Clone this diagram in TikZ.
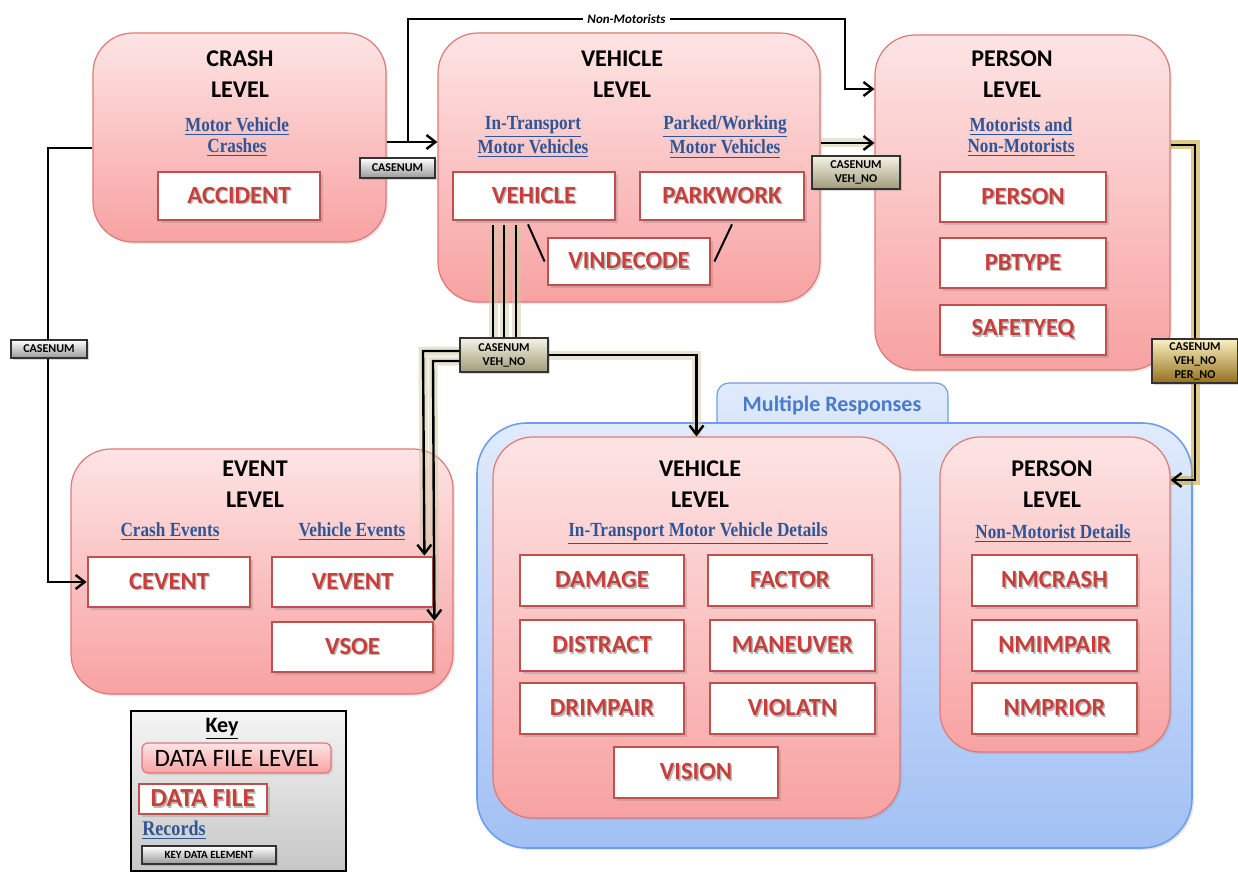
\documentclass[tikz,border=0pt]{standalone}
\usepackage{fontspec}
\setmainfont{Carlito}
\newfontfamily\slabfont{Liberation Serif}[FakeStretch=0.86]
\usetikzlibrary{arrows.meta,shadows,calc}

\definecolor{lvlTop}{HTML}{FDE4E4}
\definecolor{lvlBot}{HTML}{F8A2A2}
\definecolor{lvlLine}{HTML}{E07878}
\definecolor{fileRed}{HTML}{C0504D}
\definecolor{fileText}{HTML}{C63F3B}
\definecolor{subBlue}{HTML}{2F5597}
\definecolor{mrTop}{HTML}{E0EBFC}
\definecolor{mrBot}{HTML}{A2C0F4}
\definecolor{mrLine}{HTML}{6D9EEB}
\definecolor{mrText}{HTML}{4A7BC8}
\definecolor{khakiGlow}{HTML}{CFC9A4}
\definecolor{goldGlow}{HTML}{C9A540}
\definecolor{khakiTop}{HTML}{F5F3E6}
\definecolor{khakiBot}{HTML}{A09B78}
\definecolor{goldTop}{HTML}{FBF0C2}
\definecolor{goldBot}{HTML}{93701C}

% red file name with a soft grey shadow behind it
\newcommand\ftxt[1]{\makebox[0pt][l]{\hspace{0.7pt}\raisebox{-0.7pt}{\textcolor{black!28}{#1}}}#1}

\pgfdeclarelayer{back}
\pgfdeclarelayer{glowlayer}
\pgfsetlayers{back,glowlayer,main}

\tikzset{
  % place a rectangular node over the pixel box (x1,y1)-(x2,y2)
  area/.style n args={4}{
    minimum width={(#3-#1)*0.5pt}, minimum height={(#4-#2)*0.5pt},
    at={({(#1+#3)/2},{(#2+#4)/2})}},
  levelbox/.style={draw=lvlLine, line width=0.6pt, rounded corners=20pt,
    top color=lvlTop, bottom color=lvlBot, inner sep=0pt,
    drop shadow={shadow xshift=1pt, shadow yshift=-1pt, opacity=0.18}},
  dfile/.style={draw=fileRed, line width=1.4pt, fill=white, inner sep=0pt,
    text=fileText, font=\fontsize{12.3}{14}\selectfont\bfseries,
    drop shadow={shadow xshift=1.5pt, shadow yshift=-1.5pt, opacity=0.3}},
  ltitle/.style={align=center, font=\fontsize{12}{15.5}\selectfont\bfseries,
    text=black, inner sep=0pt},
  lsub/.style={align=center, font=\slabfont\bfseries\fontsize{10}{10.5}\selectfont,
    text=subBlue, inner sep=0pt},
  graykey/.style={draw=black!80, line width=0.6pt, top color=white,
    bottom color=black!40, inner sep=0pt, align=center,
    font=\fontsize{6}{7}\selectfont\bfseries,
    drop shadow={shadow xshift=0.8pt, shadow yshift=-0.8pt, opacity=0.3}},
  khakikey/.style={graykey, top color=khakiTop, bottom color=khakiBot},
  goldkey/.style={graykey, top color=goldTop, bottom color=goldBot},
  conn/.style={line width=1.2pt, draw=black},
  arr/.style={-{Straight Barb[length=4.5pt,width=7pt]}},
  kglow/.style={line width=4.5pt, draw=khakiGlow, opacity=0.5},
  gglow/.style={line width=4.5pt, draw=goldGlow, opacity=0.6},
}

\begin{document}
\begin{tikzpicture}[x=0.5pt,y=-0.5pt]
\useasboundingbox (0,0) rectangle (1238,872);

% ---------- level containers ----------
\begin{pgfonlayer}{back}
  % multiple responses tab and frame
  \path[draw=mrLine, line width=0.6pt, rounded corners=6pt,
        top color=mrTop, bottom color=mrTop!85!mrBot]
     (717,434) -- (717,383) -- (948,383) -- (948,434);
  \node[draw=mrLine, line width=0.8pt, rounded corners=25pt, top color=mrTop,
        bottom color=mrBot, inner sep=0pt,
        drop shadow={shadow xshift=1pt, shadow yshift=-1pt, opacity=0.2},
        area={477}{423}{1192}{848}] (mrbox) {};

  \node[levelbox, area={93}{33}{386}{242}] (crash) {};
  \node[levelbox, area={438}{33}{820}{302}] (vehlvl) {};
  \node[levelbox, area={875}{35}{1170}{370}] (perlvl) {};
  \node[levelbox, area={71}{449}{453}{694}] (evtlvl) {};
  \node[levelbox, area={493}{437}{900}{818}] (veh2) {};
  \node[levelbox, area={940}{437}{1170}{752}] (per2) {};

  % key panel
  \node[draw=black, line width=0.6pt, top color=black!4, bottom color=black!22,
        inner sep=0pt, area={131}{711}{346}{871}] (keypanel) {};
\end{pgfonlayer}

\node[inner sep=0pt, text=mrText, font=\fontsize{11}{13}\selectfont\bfseries]
  (mrtitle) at (832,405) {Multiple Responses};

% ---------- crash level ----------
\node[ltitle] (crashT) at (240,74) {CRASH\\LEVEL};
\node[lsub] (crashS) at (237,137) {\underline{Motor Vehicle}\\\underline{Crashes}};
\node[dfile, area={158}{172}{320}{220}] (accident) {\ftxt{ACCIDENT}};

% ---------- vehicle level ----------
\node[ltitle] (vehT) at (622,74) {VEHICLE\\LEVEL};
\node[lsub] (vehS1) at (533,137) {\underline{In-Transport}\\\underline{Motor Vehicles}};
\node[lsub] (vehS2) at (725,137) {\underline{Parked/Working}\\\underline{Motor Vehicles}};
\node[dfile, area={453}{172}{615}{220}] (vehicle) {\ftxt{VEHICLE}};
\node[dfile, area={640}{172}{804}{220}] (parkwork) {\ftxt{PARKWORK}};
\node[dfile, area={548}{238}{710}{285}] (vindecode) {\ftxt{VINDECODE}};
\draw[line width=1pt] ($(vehicle.south)+(-6,3)$) -- ($(vindecode.west)+(-2,0)$);
\draw[line width=1pt] ($(parkwork.south)+(10,3)$) -- ($(vindecode.east)+(3,0)$);

% ---------- person level ----------
\node[ltitle] (perT) at (1012,74) {PERSON\\LEVEL};
\node[lsub] (perS) at (1021,137) {\underline{Motorists and}\\\underline{Non-Motorists}};
\node[dfile, area={940}{172}{1106}{222}] (person) {\ftxt{PERSON}};
\node[dfile, area={940}{238}{1106}{288}] (pbtype) {\ftxt{PBTYPE}};
\node[dfile, area={940}{305}{1106}{355}] (safetyeq) {\ftxt{SAFETYEQ}};

% ---------- event level ----------
\node[ltitle] (evtT) at (255,484) {EVENT\\LEVEL};
\node[lsub] (evtS1) at (170,532) {\underline{Crash Events}};
\node[lsub] (evtS2) at (352,532) {\underline{Vehicle Events}};
\node[dfile, area={88}{557}{250}{607}] (cevent) {\ftxt{CEVENT}};
\node[dfile, area={272}{557}{433}{607}] (vevent) {\ftxt{VEVENT}};
\node[dfile, area={272}{622}{433}{672}] (vsoe) {\ftxt{VSOE}};

% ---------- multiple responses: vehicle level ----------
\node[ltitle] (veh2T) at (700,484) {VEHICLE\\LEVEL};
\node[lsub] (veh2S) at (698,534) {\underline{In-Transport Motor Vehicle Details}};
\node[dfile, area={520}{555}{684}{606}] (damage) {\ftxt{DAMAGE}};
\node[dfile, area={708}{555}{872}{606}] (factor) {\ftxt{FACTOR}};
\node[dfile, area={520}{620}{684}{671}] (distract) {\ftxt{DISTRACT}};
\node[dfile, area={710}{620}{875}{671}] (maneuver) {\ftxt{MANEUVER}};
\node[dfile, area={520}{683}{684}{734}] (drimpair) {\ftxt{DRIMPAIR}};
\node[dfile, area={710}{683}{875}{734}] (violatn) {\ftxt{VIOLATN}};
\node[dfile, area={614}{747}{778}{798}] (vision) {\ftxt{VISION}};

% ---------- multiple responses: person level ----------
\node[ltitle] (per2T) at (1052,484) {PERSON\\LEVEL};
\node[lsub] (per2S) at (1053,534) {\underline{Non-Motorist Details}};
\node[dfile, area={972}{555}{1137}{606}] (nmcrash) {\ftxt{NMCRASH}};
\node[dfile, area={972}{620}{1137}{671}] (nmimpair) {\ftxt{NMIMPAIR}};
\node[dfile, area={972}{683}{1137}{734}] (nmprior) {\ftxt{NMPRIOR}};

% ---------- key data element labels ----------
\node[graykey, area={360}{158}{435}{178}] (lblA) {CASENUM};
\node[khakikey, area={812}{156}{900}{189}] (lblB) {CASENUM\\VEH\_NO};
\node[graykey, area={11}{340}{87}{358}] (lblC) {CASENUM};
\node[khakikey, area={460}{338}{548}{372}] (lblD) {CASENUM\\VEH\_NO};
\node[goldkey, area={1152}{339}{1238}{383}] (lblE) {CASENUM\\VEH\_NO\\PER\_NO};

% ---------- connectors ----------
\coordinate (nmsplit) at (408,142);
\coordinate (nmtop) at (408,19);
\coordinate (nmdrop) at (845,19);
\coordinate (nmin) at (perlvl.west |- 0,89);

\begin{pgfonlayer}{glowlayer}
  \draw[kglow] (vehlvl.east |- 0,143) -- (perlvl.west |- 0,143);
  \foreach \dx in {-41,-30,-18}
    \draw[kglow] ($(vehicle.south)+(\dx,4)$) -- (lblD.north -| {$(vehicle.south)+(\dx,0)$});
  \draw[kglow] ($(lblD.west)+(0,-4)$) -- (423,351) -- ($(vevent.north east)+(-10,0)$);
  \draw[kglow] ($(lblD.west)+(0,6)$) -- (433,361) -- (vsoe.north east);
  \draw[kglow] (lblD.east) -| (veh2.north);
  \draw[gglow] (perlvl.east |- 0,145) -| (lblE.north);
  \draw[gglow] (lblE.south) |- (per2.east |- 0,480);
\end{pgfonlayer}

% crash -> vehicle (CASENUM)
\draw[conn,arr] (crash.east |- 0,142) -- (vehlvl.west |- 0,142);
% crash -> person (non-motorists)
\draw[conn,arr] (nmsplit) -- (nmtop)
  -- node[fill=white, inner sep=2pt, font=\fontsize{6.5}{7}\selectfont\bfseries\itshape] (nmlabel) {Non-Motorists}
  (nmdrop) |- (nmin);
% vehicle -> person
\draw[conn,arr] (vehlvl.east |- 0,143) -- (perlvl.west |- 0,143);
% crash -> crash events
\draw[conn] (crash.west |- 0,148) -- (48,148) -- (lblC.north -| 48,0);
\draw[conn,arr] (lblC.south -| 48,0) |- (cevent.west);
% vehicle -> events and details
\foreach \dx in {-41,-30,-18}
  \draw[conn] ($(vehicle.south)+(\dx,4)$) -- (lblD.north -| {$(vehicle.south)+(\dx,0)$});
\draw[conn,arr] ($(lblD.west)+(0,-4)$) -- (423,351) -- ($(vevent.north east)+(-10,0)$);
\draw[conn,arr] ($(lblD.west)+(0,6)$) -- (433,361) -- (vsoe.north east);
\draw[conn,arr] (lblD.east) -| (veh2.north);
% person -> non-motorist details
\draw[conn] (perlvl.east |- 0,145) -| (lblE.north);
\draw[conn,arr] (lblE.south) |- (per2.east |- 0,480);

% ---------- key ----------
\node[inner sep=0pt, font=\fontsize{11}{13}\selectfont\bfseries] (keyT) at (222,729) {\underline{Key}};
\node[levelbox, rounded corners=3pt, area={142}{743}{331}{773},
      font=\fontsize{12.5}{14}\selectfont] (keyLvl) {DATA FILE LEVEL};
\node[dfile, area={139}{784}{267}{814}, font=\fontsize{13}{15}\selectfont\bfseries] (keyFile) {\ftxt{DATA FILE}};
\node[lsub, font=\slabfont\bfseries\fontsize{10.5}{11}\selectfont] (keyRec) at (174,830) {\underline{Records}};
\node[graykey, area={142}{846}{276}{864}, font=\fontsize{5.5}{6}\selectfont\bfseries] (keyElem) {KEY DATA ELEMENT};

\end{tikzpicture}
\end{document}
